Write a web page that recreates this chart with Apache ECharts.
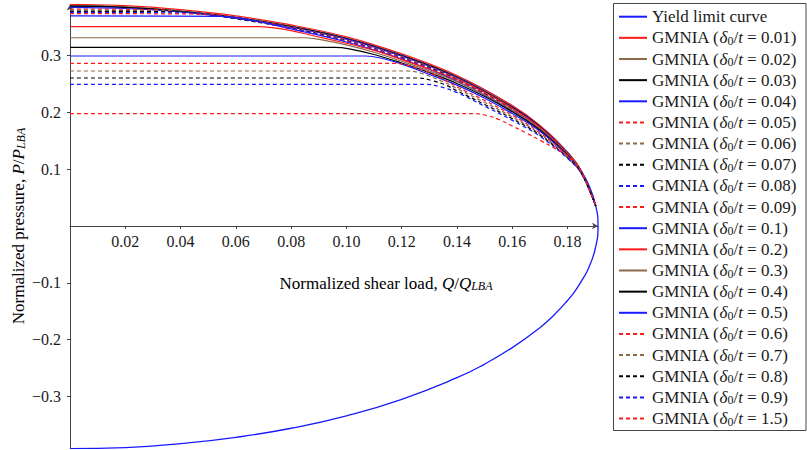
<!DOCTYPE html>
<html>
<head>
<meta charset="utf-8">
<script src="https://cdn.jsdelivr.net/npm/echarts@6/dist/echarts.min.js"></script>
<style>
  html, body { margin: 0; padding: 0; background: #fff; }
  #chart { width: 807px; height: 450px; }
</style>
</head>
<body>
<div id="chart"></div>
<script>
// Tick positions on both axes
const xTickValues = [0.02, 0.04, 0.06, 0.08, 0.10, 0.12, 0.14, 0.16, 0.18];
const yTickValues = [-0.3, -0.2, -0.1, 0.1, 0.2, 0.3];

// Yield limit curve: [Q/Q_LBA, P/P_LBA], running from the top of the axis round to the bottom
const yieldLimit = [
  [0, 0.387], [0.02, 0.385], [0.04, 0.378], [0.06, 0.367], [0.08, 0.351], [0.10, 0.330],
  [0.12, 0.301], [0.14, 0.263], [0.15, 0.240], [0.16, 0.211], [0.17, 0.176], [0.175, 0.155],
  [0.18, 0.129], [0.1825, 0.114], [0.185, 0.096], [0.1875, 0.074], [0.19, 0.039], [0.191, 0],
  [0.19, -0.040], [0.1875, -0.075], [0.185, -0.097], [0.1825, -0.116], [0.18, -0.131],
  [0.175, -0.157], [0.17, -0.179], [0.16, -0.214], [0.15, -0.243], [0.14, -0.267],
  [0.12, -0.305], [0.10, -0.334], [0.08, -0.356], [0.06, -0.372], [0.04, -0.383],
  [0.02, -0.390], [0, -0.392]
];

// GMNIA interaction curves, one per imperfection amplitude delta0/t
const gmnia001 = [[0, 0.390], [0.02, 0.388], [0.04, 0.381], [0.06, 0.370], [0.08, 0.354], [0.10, 0.333], [0.12, 0.303], [0.14, 0.265], [0.16, 0.212], [0.17, 0.177], [0.18, 0.130], [0.185, 0.097], [0.1902, 0.036]];
const gmnia002 = [[0, 0.388], [0.02, 0.386], [0.04, 0.379], [0.06, 0.368], [0.08, 0.352], [0.10, 0.331], [0.12, 0.301], [0.14, 0.263], [0.16, 0.210], [0.17, 0.175], [0.18, 0.129], [0.185, 0.096], [0.1902, 0.036]];
const gmnia003 = [[0, 0.387], [0.02, 0.385], [0.04, 0.378], [0.06, 0.367], [0.08, 0.351], [0.10, 0.330], [0.12, 0.300], [0.14, 0.262], [0.16, 0.209], [0.17, 0.175], [0.18, 0.128], [0.185, 0.096], [0.1902, 0.035]];
const gmnia004 = [[0, 0.385], [0.02, 0.383], [0.04, 0.377], [0.06, 0.366], [0.08, 0.350], [0.10, 0.329], [0.12, 0.299], [0.14, 0.261], [0.16, 0.208], [0.17, 0.174], [0.18, 0.128], [0.185, 0.095], [0.1902, 0.035]];
const gmnia005 = [[0, 0.382], [0.03, 0.381], [0.04, 0.377], [0.06, 0.366], [0.08, 0.350], [0.10, 0.328], [0.12, 0.298], [0.14, 0.260], [0.16, 0.207], [0.17, 0.173], [0.18, 0.127], [0.185, 0.095], [0.1902, 0.035]];
const gmnia006 = [[0, 0.380], [0.035, 0.379], [0.045, 0.375], [0.06, 0.365], [0.08, 0.349], [0.10, 0.327], [0.12, 0.297], [0.14, 0.259], [0.16, 0.206], [0.17, 0.172], [0.18, 0.127], [0.185, 0.095], [0.1902, 0.035]];
const gmnia007 = [[0, 0.378], [0.04, 0.377], [0.05, 0.372], [0.06, 0.365], [0.08, 0.348], [0.10, 0.326], [0.12, 0.296], [0.14, 0.258], [0.16, 0.205], [0.17, 0.171], [0.18, 0.126], [0.185, 0.094], [0.1902, 0.035]];
const gmnia008 = [[0, 0.376], [0.045, 0.375], [0.055, 0.369], [0.07, 0.358], [0.08, 0.348], [0.10, 0.326], [0.12, 0.296], [0.14, 0.257], [0.16, 0.204], [0.17, 0.170], [0.18, 0.126], [0.185, 0.094], [0.1902, 0.035]];
const gmnia009 = [[0, 0.374], [0.05, 0.373], [0.06, 0.367], [0.07, 0.358], [0.08, 0.347], [0.10, 0.325], [0.12, 0.295], [0.14, 0.256], [0.16, 0.204], [0.17, 0.170], [0.18, 0.125], [0.185, 0.094], [0.1902, 0.035]];
const gmnia010 = [[0, 0.370], [0.055, 0.369], [0.065, 0.363], [0.08, 0.347], [0.10, 0.324], [0.12, 0.294], [0.14, 0.255], [0.16, 0.203], [0.17, 0.169], [0.18, 0.125], [0.185, 0.094], [0.1902, 0.035]];
const gmnia020 = [[0, 0.351], [0.068, 0.351], [0.079, 0.345], [0.088, 0.335], [0.098, 0.324], [0.11, 0.309], [0.12, 0.293], [0.13, 0.276], [0.14, 0.258], [0.15, 0.235], [0.16, 0.207], [0.17, 0.173], [0.18, 0.127], [0.185, 0.095], [0.1902, 0.035]];
const gmnia030 = [[0, 0.3315], [0.085, 0.3315], [0.092, 0.327], [0.10, 0.319], [0.11, 0.306], [0.12, 0.290], [0.13, 0.273], [0.14, 0.254], [0.15, 0.231], [0.16, 0.204], [0.17, 0.171], [0.18, 0.126], [0.185, 0.095], [0.1902, 0.035]];
const gmnia040 = [[0, 0.3146], [0.096, 0.3146], [0.101, 0.312], [0.11, 0.302], [0.12, 0.287], [0.13, 0.270], [0.14, 0.251], [0.15, 0.228], [0.16, 0.201], [0.17, 0.169], [0.18, 0.125], [0.185, 0.094], [0.1902, 0.035]];
const gmnia050 = [[0, 0.2993], [0.107, 0.2993], [0.113, 0.295], [0.12, 0.285], [0.13, 0.267], [0.14, 0.248], [0.15, 0.225], [0.16, 0.198], [0.17, 0.167], [0.18, 0.124], [0.185, 0.094], [0.1902, 0.035]];
const gmnia060 = [[0, 0.2864], [0.117, 0.2864], [0.122, 0.283], [0.128, 0.274], [0.134, 0.261], [0.14, 0.245], [0.15, 0.221], [0.16, 0.195], [0.17, 0.164], [0.18, 0.123], [0.185, 0.0935], [0.1902, 0.035]];
const gmnia070 = [[0, 0.2729], [0.122, 0.2729], [0.127, 0.269], [0.134, 0.256], [0.14, 0.242], [0.15, 0.2175], [0.16, 0.192], [0.17, 0.162], [0.18, 0.1215], [0.185, 0.093], [0.1902, 0.035]];
const gmnia080 = [[0, 0.2606], [0.126, 0.2606], [0.131, 0.256], [0.136, 0.248], [0.14, 0.238], [0.15, 0.214], [0.16, 0.189], [0.17, 0.160], [0.18, 0.120], [0.185, 0.0925], [0.1902, 0.035]];
const gmnia090 = [[0, 0.2494], [0.129, 0.2494], [0.134, 0.245], [0.14, 0.235], [0.15, 0.211], [0.16, 0.186], [0.17, 0.158], [0.18, 0.119], [0.185, 0.092], [0.1902, 0.035]];
const gmnia150 = [[0, 0.198], [0.146, 0.198], [0.1505, 0.195], [0.1555, 0.187], [0.16, 0.176], [0.165, 0.164], [0.17, 0.151], [0.175, 0.138], [0.18, 0.124], [0.1825, 0.113], [0.185, 0.095], [0.1902, 0.035]];

const amplitudes = ['0.01', '0.02', '0.03', '0.04', '0.05', '0.06', '0.07', '0.08', '0.09',
                    '0.1', '0.2', '0.3', '0.4', '0.5', '0.6', '0.7', '0.8', '0.9', '1.5'];
const gmniaData = [gmnia001, gmnia002, gmnia003, gmnia004, gmnia005, gmnia006, gmnia007, gmnia008, gmnia009,
                   gmnia010, gmnia020, gmnia030, gmnia040, gmnia050, gmnia060, gmnia070, gmnia080, gmnia090, gmnia150];

// Line styles per curve: colour cycle red, brown, black, blue; solid then dashed
const RED = '#ff1a1a', BROWN = '#8c6a48', BLACK = '#000000', BLUE = '#1a1aff';
const gmniaStyle = [
  [RED, 'solid'], [BROWN, 'solid'], [BLACK, 'solid'], [BLUE, 'solid'],
  [RED, 'dashed'], [BROWN, 'dashed'], [BLACK, 'dashed'], [BLUE, 'dashed'], [RED, 'dashed'],
  [BLUE, 'solid'], [RED, 'solid'], [BROWN, 'solid'], [BLACK, 'solid'], [BLUE, 'solid'],
  [RED, 'dashed'], [BROWN, 'dashed'], [BLACK, 'dashed'], [BLUE, 'dashed'], [RED, 'dashed']
];

const FONT = 'Liberation Serif';
const TEXT = '#1a1a1a';
function makeRich(size) {
  return {
    n: { fontFamily: FONT, fontSize: size, lineHeight: 18, color: TEXT },
    i: { fontFamily: FONT, fontSize: size, lineHeight: 18, color: TEXT, fontStyle: 'italic' },
    s: { fontFamily: FONT, fontSize: 12, lineHeight: 10, color: TEXT, verticalAlign: 'bottom' },
    si: { fontFamily: FONT, fontSize: 12, lineHeight: 10, color: TEXT, fontStyle: 'italic', verticalAlign: 'bottom' }
  };
}
const richTitle = makeRich(17);
const richLegend = makeRich(17);

const yieldName = 'Yield limit curve';
const gmniaName = a => 'GMNIA (δ0/t = ' + a + ')';

const series = [{
  name: yieldName,
  type: 'line',
  data: yieldLimit,
  smooth: 0.5,
  symbol: 'none',
  lineStyle: { color: BLUE, width: 1.3 },
  itemStyle: { color: BLUE },
  z: 2
}];
gmniaData.forEach((d, k) => {
  const [color, type] = gmniaStyle[k];
  series.push({
    name: gmniaName(amplitudes[k]),
    type: 'line',
    data: d,
    smooth: 0.4,
    symbol: 'none',
    lineStyle: { color: color, width: 1.2, type: type === 'dashed' ? [4, 3] : 'solid' },
    itemStyle: { color: color },
    z: 3
  });
});

// Plot box in pixels; the x axis is drawn through P = 0
const Y_MIN = -0.392, Y_MAX = 0.39;
const GRID_TOP = 4.5, GRID_BOTTOM = 1.3, CHART_H = 450;
const plotH = CHART_H - GRID_TOP - GRID_BOTTOM;
const zeroOffset = plotH * (0 - Y_MIN) / (Y_MAX - Y_MIN);

const chart = echarts.init(document.getElementById('chart'), null, { renderer: 'svg' });
chart.setOption({
  animation: false,
  backgroundColor: '#fff',
  grid: { left: 70, right: 209, top: GRID_TOP, bottom: GRID_BOTTOM, containLabel: false, outerBoundsMode: 'none' },
  xAxis: {
    type: 'value',
    min: 0, max: 0.191,
    position: 'bottom',
    offset: -zeroOffset,
    axisLine: { onZero: false, lineStyle: { color: '#444', width: 1 }, symbol: ['none', 'arrow'], symbolSize: [5, 6] },
    axisTick: { show: true, length: 3, lineStyle: { color: '#444' }, customValues: xTickValues },
    axisLabel: {
      customValues: xTickValues, margin: 7,
      fontFamily: FONT, fontSize: 16, color: TEXT,
      formatter: v => v.toFixed(2)
    },
    splitLine: { show: false }
  },
  yAxis: {
    type: 'value',
    min: Y_MIN, max: Y_MAX,
    axisLine: { onZero: false, lineStyle: { color: '#444', width: 1 }, symbol: ['none', 'arrow'], symbolSize: [5, 6] },
    axisTick: { show: true, length: 3, lineStyle: { color: '#444' }, customValues: yTickValues },
    axisLabel: {
      customValues: yTickValues, margin: 9,
      fontFamily: FONT, fontSize: 16, color: TEXT,
      formatter: v => (v < 0 ? '\u2212' : '') + Math.abs(v).toFixed(1)
    },
    splitLine: { show: false }
  },
  legend: {
    orient: 'vertical',
    left: 618, top: 7.7,
    padding: 0,
    itemWidth: 28, itemHeight: 14, itemGap: 3.15,
    selectedMode: false,
    itemStyle: { opacity: 0 },
    data: [yieldName].concat(amplitudes.map(gmniaName)),
    textStyle: { fontFamily: FONT, fontSize: 17, lineHeight: 18, color: TEXT, rich: richLegend },
    formatter: name => {
      if (name === yieldName) return '{n|Yield limit curve}';
      const a = name.slice(name.indexOf('= ') + 2, -1);
      return '{n|GMNIA (}{i|δ}{s|0}{n|/}{i|t}{n| = ' + a + ')}';
    }
  },
  graphic: [
    {
      type: 'rect',
      shape: { x: 613.5, y: 3.5, width: 192.5, height: 427 },
      style: { fill: 'none', stroke: '#444', lineWidth: 1 },
      silent: true
    },
    {
      type: 'text',
      x: 386, y: 283,
      style: {
        text: '{n|Normalized shear load, }{i|Q}{n|/}{i|Q}{si|LBA}',
        rich: richTitle, align: 'center', verticalAlign: 'middle'
      },
      silent: true
    },
    {
      type: 'text',
      x: 18, y: 226,
      rotation: Math.PI / 2,
      style: {
        text: '{n|Normalized pressure, }{i|P}{n|/}{i|P}{si|LBA}',
        rich: richTitle, align: 'center', verticalAlign: 'middle'
      },
      silent: true
    }
  ],
  series: series
});
</script>
</body>
</html>
